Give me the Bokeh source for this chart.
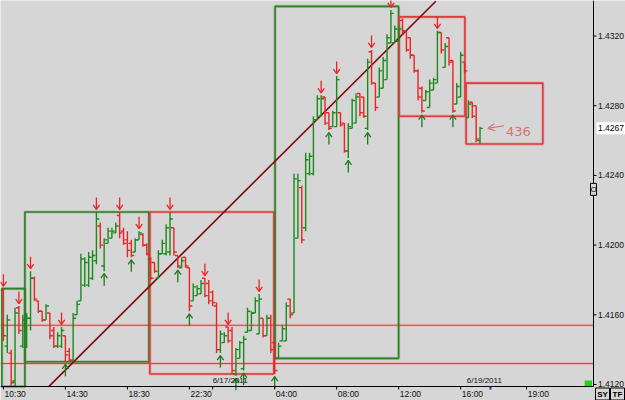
from bokeh.plotting import figure
from bokeh.models import Range1d, Arrow, OpenHead, ColumnDataSource
from bokeh.core.properties import value
from bokeh.embed import file_html
from bokeh.resources import INLINE

# ---------------- data (15-minute bars) ----------------
opens = [1.4174, 1.4142, 1.4138, 1.4122, 1.4164, 1.4142, 1.4145, 1.4158, 1.4181, 1.4168,
         1.4162, 1.4157, 1.4161, 1.4151, 1.4142, 1.4142, 1.4148, 1.4139, 1.4134, 1.4160,
         1.4168, 1.4177, 1.4177, 1.4181, 1.4191, 1.4211, 1.4188, 1.4201, 1.4204, 1.4207,
         1.4217, 1.4208, 1.4203, 1.4201, 1.4196, 1.4203, 1.4206, 1.4200, 1.4192, 1.4190,
         1.4181, 1.4195, 1.4195, 1.4196, 1.4210, 1.4194, 1.4187, 1.4193, 1.4187, 1.4168,
         1.4171, 1.4172, 1.4181, 1.4178, 1.4173, 1.4165, 1.4140, 1.4144, 1.4153, 1.4151,
         1.4126, 1.4135, 1.4129, 1.4150, 1.4151, 1.4161, 1.4149, 1.4158, 1.4148, 1.4158,
         1.4144, 1.4135, 1.4145, 1.4145, 1.4169, 1.4161, 1.4204, 1.4233, 1.4210, 1.4241,
         1.4241, 1.4272, 1.4274, 1.4285, 1.4276, 1.4268, 1.4268, 1.4276, 1.4270, 1.4254,
         1.4267, 1.4270, 1.4287, 1.4285, 1.4267, 1.4311, 1.4293, 1.4285, 1.4290, 1.4295,
         1.4316, 1.4316, 1.4317, 1.4329, 1.4323, 1.4319, 1.4309, 1.4300, 1.4290, 1.4283,
         1.4279, 1.4289, 1.4293, 1.4322, 1.4302, 1.4319, 1.4306, 1.4281, 1.4285, 1.4305,
         1.4273, 1.4282, 1.4280, 1.4260]

highs = [1.4175, 1.4160, 1.4140, 1.4164, 1.4165, 1.4160, 1.4161, 1.4185, 1.4182, 1.4168,
         1.4162, 1.4166, 1.4161, 1.4153, 1.4150, 1.4153, 1.4148, 1.4141, 1.4161, 1.4168,
         1.4195, 1.4193, 1.4196, 1.4197, 1.4219, 1.4213, 1.4204, 1.4210, 1.4210, 1.4213,
         1.4219, 1.4210, 1.4208, 1.4203, 1.4204, 1.4208, 1.4207, 1.4201, 1.4193, 1.4190,
         1.4197, 1.4203, 1.4212, 1.4219, 1.4210, 1.4194, 1.4193, 1.4193, 1.4187, 1.4178,
         1.4177, 1.4180, 1.4181, 1.4180, 1.4174, 1.4167, 1.4151, 1.4150, 1.4153, 1.4153,
         1.4141, 1.4145, 1.4148, 1.4164, 1.4162, 1.4170, 1.4172, 1.4158, 1.4160, 1.4160,
         1.4145, 1.4144, 1.4154, 1.4167, 1.4169, 1.4241, 1.4241, 1.4234, 1.4253, 1.4253,
         1.4274, 1.4286, 1.4286, 1.4285, 1.4276, 1.4277, 1.4297, 1.4276, 1.4270, 1.4270,
         1.4284, 1.4287, 1.4287, 1.4285, 1.4307, 1.4312, 1.4293, 1.4302, 1.4308, 1.4321,
         1.4335, 1.4326, 1.4326, 1.4330, 1.4323, 1.4319, 1.4309, 1.4301, 1.4291, 1.4289,
         1.4295, 1.4296, 1.4323, 1.4322, 1.4316, 1.4319, 1.4306, 1.4293, 1.4311, 1.4305,
         1.4283, 1.4282, 1.4280, 1.4268]

lows = [1.4145, 1.4138, 1.4119, 1.4119, 1.4149, 1.4141, 1.4141, 1.4151, 1.4168, 1.4161,
        1.4156, 1.4157, 1.4146, 1.4141, 1.4141, 1.4141, 1.4133, 1.4133, 1.4133, 1.4160,
        1.4168, 1.4176, 1.4176, 1.4180, 1.4189, 1.4198, 1.4185, 1.4201, 1.4204, 1.4207,
        1.4204, 1.4200, 1.4193, 1.4193, 1.4196, 1.4203, 1.4199, 1.4194, 1.4180, 1.4184,
        1.4181, 1.4195, 1.4194, 1.4194, 1.4194, 1.4187, 1.4187, 1.4187, 1.4162, 1.4168,
        1.4171, 1.4172, 1.4170, 1.4166, 1.4165, 1.4138, 1.4138, 1.4144, 1.4144, 1.4126,
        1.4125, 1.4135, 1.4128, 1.4150, 1.4151, 1.4161, 1.4149, 1.4147, 1.4148, 1.4138,
        1.4126, 1.4135, 1.4145, 1.4145, 1.4158, 1.4161, 1.4204, 1.4201, 1.4208, 1.4240,
        1.4240, 1.4272, 1.4274, 1.4269, 1.4266, 1.4268, 1.4268, 1.4268, 1.4253, 1.4250,
        1.4267, 1.4270, 1.4274, 1.4273, 1.4266, 1.4292, 1.4277, 1.4285, 1.4290, 1.4295,
        1.4316, 1.4316, 1.4317, 1.4321, 1.4311, 1.4307, 1.4299, 1.4283, 1.4276, 1.4283,
        1.4279, 1.4289, 1.4293, 1.4310, 1.4302, 1.4303, 1.4276, 1.4281, 1.4285, 1.4299,
        1.4273, 1.4273, 1.4259, 1.4258]

closes = [1.4148, 1.4157, 1.4121, 1.4161, 1.4151, 1.4157, 1.4158, 1.4181, 1.4169, 1.4162,
          1.4157, 1.4165, 1.4148, 1.4142, 1.4148, 1.4151, 1.4137, 1.4134, 1.4158, 1.4166,
          1.4192, 1.4190, 1.4193, 1.4194, 1.4215, 1.4200, 1.4203, 1.4208, 1.4208, 1.4211,
          1.4207, 1.4201, 1.4197, 1.4194, 1.4203, 1.4207, 1.4200, 1.4195, 1.4181, 1.4185,
          1.4195, 1.4201, 1.4210, 1.4215, 1.4196, 1.4188, 1.4191, 1.4188, 1.4165, 1.4176,
          1.4175, 1.4178, 1.4171, 1.4168, 1.4167, 1.4140, 1.4149, 1.4148, 1.4145, 1.4128,
          1.4140, 1.4144, 1.4146, 1.4162, 1.4161, 1.4168, 1.4169, 1.4148, 1.4158, 1.4140,
          1.4128, 1.4142, 1.4152, 1.4165, 1.4160, 1.4238, 1.4237, 1.4203, 1.4249, 1.4251,
          1.4272, 1.4284, 1.4284, 1.4270, 1.4267, 1.4276, 1.4295, 1.4269, 1.4254, 1.4268,
          1.4283, 1.4285, 1.4276, 1.4274, 1.4305, 1.4293, 1.4279, 1.4300, 1.4306, 1.4319,
          1.4333, 1.4324, 1.4324, 1.4323, 1.4312, 1.4309, 1.4300, 1.4285, 1.4277, 1.4288,
          1.4293, 1.4295, 1.4322, 1.4312, 1.4314, 1.4305, 1.4277, 1.4291, 1.4309, 1.4300,
          1.4281, 1.4274, 1.4261, 1.4267]

# swing markers (bar numbers)
swing_high_bars = [0, 4, 7, 15, 24, 30, 35, 43, 52, 58, 66, 82, 86, 95, 100, 112]
swing_low_bars = [16, 26, 33, 45, 48, 56, 60, 62, 70, 84, 89, 94, 108, 116]

# range boxes (bar units / price)
box_left = [-0.4, 5.55, 37.8, 70.1, 102.1, 119.4]
box_right = [5.55, 37.55, 69.8, 102.0, 119.1, 139.2]
box_top = [1.4175, 1.4219, 1.4219, 1.4337, 1.4331, 1.4293]
box_bottom = [1.41188, 1.4133, 1.4126, 1.4135, 1.4274, 1.4258]
box_kind = ["up", "up", "down", "up", "down", "down"]

# trend line
trend_x = [11.7, 111.6]
trend_y = [1.41188, 1.4340]

# horizontal levels
level_prices = [1.4154, 1.4132]

# axis ticks and labels
time_tick_bars = [0, 16, 32, 48, 54, 70, 86, 102, 118, 135]
time_tick_labels = ["10:30", "14:30", "18:30", "22:30", "", "04:00", "08:00", "12:00", "16:00", "19:00"]
date_label_bars = [54, 119.6]
date_labels = ["6/17/2011", "6/19/2011"]
week_start_bar = 125.7
price_ticks = [1.4120, 1.4160, 1.4200, 1.4240, 1.4280, 1.4320]
price_tick_labels = ["1.4120", "1.4160", "1.4200", "1.4240", "1.4280", "1.4320"]
last_price = 1.4267
last_price_label = "1.4267"
note_text = "436"
note_x = 129.7
note_y = 1.4265
note_arrow_x = [129.2, 125.0]
note_arrow_y = [1.42685, 1.4267]

# ---------------- geometry / styling ----------------
PX_X = 1 / 3.875                 # one pixel in bar units
X_START = -0.75
X_END = X_START + 625 * PX_X     # whole canvas is the frame; scales drawn inside
AXIS_X = X_START + 593 * PX_X    # price-scale line
Y_END = 1.43404
PX_Y = 0.0000574
Y_START = Y_END - 400 * PX_Y
AXIS_Y = Y_END - 386 * PX_Y      # time-scale line

BG = "#d6d6d6"
GREEN = "#1a8a1a"
RED = "#ee2222"
BOX_GREEN = "#2f7f25"
BOX_RED = "#e23a3a"
FONT = "Liberation Sans"
INK = "#111111"

p = figure(width=625, height=400, output_backend="svg", toolbar_location=None,
           x_range=Range1d(X_START, X_END), y_range=Range1d(Y_START, Y_END),
           x_axis_location=None, y_axis_location=None, min_border_left=0, min_border_top=0,
           min_border_right=0, min_border_bottom=0)
p.background_fill_color = BG
p.border_fill_color = BG
p.outline_line_color = None
p.xgrid.visible = False
p.ygrid.visible = False

# horizontal levels (stop at the price scale)
n_lv = len(level_prices)
p.segment(x0=[X_START] * n_lv, y0=level_prices, x1=[AXIS_X] * n_lv, y1=level_prices,
          line_color="#f0b4b4", line_width=3, line_alpha=0.8)
p.segment(x0=[X_START] * n_lv, y0=level_prices, x1=[AXIS_X] * n_lv, y1=level_prices,
          line_color="#b84848", line_width=1)

# boxes
bcols = [BOX_GREEN if k == "up" else BOX_RED for k in box_kind]
p.quad(left=box_left, right=box_right, top=box_top, bottom=box_bottom,
       fill_color=None, line_color=bcols, line_width=3.2, line_alpha=0.25)
p.quad(left=box_left, right=box_right, top=box_top, bottom=box_bottom,
       fill_color=None, line_color=bcols, line_width=1.6)

# trend line
p.line(trend_x, trend_y, line_color="#7a0a0a", line_width=1.6)

# OHLC bars
xs = list(range(len(opens)))
cols = [GREEN if c >= o else RED for o, c in zip(opens, closes)]
src = ColumnDataSource(dict(x=xs, xl=[x - 0.75 for x in xs], xr=[x + 0.75 for x in xs],
                            o=opens, h=highs, l=lows, c=closes, col=cols))
p.segment(x0="x", y0="l", x1="x", y1="h", line_color="col", line_width=1.4, source=src)
p.segment(x0="xl", y0="o", x1="x", y1="o", line_color="col", line_width=1.4, source=src)
p.segment(x0="x", y0="c", x1="xr", y1="c", line_color="col", line_width=1.4, source=src)

# swing arrows drawn as strokes: stem + open head
def arrow_lines(bars, anchor, sign):
    xs_, ys_ = [], []
    for b in bars:
        tip = anchor[b] + sign * 2.5 * PX_Y
        tail = tip + sign * 12 * PX_Y
        xs_.append([b, b]); ys_.append([tip, tail])
        xs_.append([b - 3.2 * PX_X, b, b + 3.2 * PX_X])
        ys_.append([tip + sign * 4.5 * PX_Y, tip, tip + sign * 4.5 * PX_Y])
    return xs_, ys_

rx, ry = arrow_lines(swing_high_bars, highs, 1)
gx, gy = arrow_lines(swing_low_bars, lows, -1)
p.multi_line(rx, ry, line_color=RED, line_width=1.3)
p.multi_line(gx, gy, line_color="#1d7a1d", line_width=1.3)

# note "436"
p.add_layout(Arrow(end=OpenHead(size=7, line_color="#d87070", line_width=1.2),
                   x_start=note_arrow_x[0], y_start=note_arrow_y[0],
                   x_end=note_arrow_x[1], y_end=note_arrow_y[1],
                   line_color="#d87070", line_width=1.2))
p.text(x=[note_x], y=[note_y], text=[note_text], text_color="#d87070",
       text_font=value("DejaVu Sans"), text_font_size="13px",
       text_align="left", text_baseline="middle")

# small green marker bottom right
p.quad(left=[150.0], right=[151.9], bottom=[AXIS_Y], top=[AXIS_Y + 6 * PX_Y],
       fill_color="#22d022", line_color=None)

# ---- time scale ----
p.segment(x0=[X_START], y0=[AXIS_Y], x1=[AXIS_X], y1=[AXIS_Y], line_color="black", line_width=1)
n_t = len(time_tick_bars)
p.segment(x0=time_tick_bars, y0=[AXIS_Y] * n_t, x1=time_tick_bars, y1=[AXIS_Y - 3 * PX_Y] * n_t,
          line_color="black", line_width=1)
p.segment(x0=[week_start_bar], y0=[AXIS_Y], x1=[week_start_bar], y1=[AXIS_Y - 3 * PX_Y],
          line_color="#2030c0", line_width=2)
p.text(x=[t + 0.3 for t in time_tick_bars], y=[AXIS_Y - 2 * PX_Y] * n_t, text=time_tick_labels,
       text_color=INK, text_font=value(FONT), text_font_size="8.5px",
       text_align="left", text_baseline="top")
p.text(x=date_label_bars, y=[AXIS_Y + 1.5 * PX_Y] * 2, text=date_labels, text_color=INK,
       text_font=value(FONT), text_font_size="8px", text_align="left", text_baseline="bottom")

# ---- price scale ----
p.segment(x0=[AXIS_X], y0=[AXIS_Y], x1=[AXIS_X], y1=[Y_END], line_color="black", line_width=1)
n_p = len(price_ticks)
p.segment(x0=[AXIS_X] * n_p, y0=price_ticks, x1=[AXIS_X + 3 * PX_X] * n_p, y1=price_ticks,
          line_color="black", line_width=1)
p.text(x=[AXIS_X + 4.5 * PX_X] * n_p, y=price_ticks, text=price_tick_labels,
       text_color=INK, text_font=value(FONT), text_font_size="8.5px",
       text_align="left", text_baseline="middle")
# last price tag
p.quad(left=[AXIS_X + 3 * PX_X], right=[X_END], bottom=[last_price - 6 * PX_Y],
       top=[last_price + 6 * PX_Y], fill_color="white", line_color=None)
p.text(x=[AXIS_X + 4.5 * PX_X], y=[last_price], text=[last_price_label], text_color="black",
       text_font=value(FONT), text_font_size="8.5px", text_align="left", text_baseline="middle")
# small "O" box on the scale
p.quad(left=[AXIS_X - 3 * PX_X], right=[AXIS_X + 3 * PX_X], bottom=[1.4232 - 6 * PX_Y],
       top=[1.4232 + 6 * PX_Y], fill_color=BG, line_color="black", line_width=1)
p.text(x=[AXIS_X], y=[1.4232], text=["O"], text_color="black", text_font=value(FONT),
       text_font_size="8px", text_align="center", text_baseline="middle")
# SY / TF buttons
btn_left = [AXIS_X + 2 * PX_X, AXIS_X + 17 * PX_X]
btn_text = ["SY", "TF"]
p.quad(left=btn_left, right=[b + 14 * PX_X for b in btn_left], bottom=[Y_START + 0.5 * PX_Y] * 2,
       top=[AXIS_Y - 1.5 * PX_Y] * 2, fill_color=BG, line_color="black", line_width=1)
p.text(x=[b + 7 * PX_X for b in btn_left], y=[AXIS_Y - 7.5 * PX_Y] * 2, text=btn_text,
       text_color="black", text_font=value(FONT), text_font_size="8px", text_font_style="bold",
       text_align="center", text_baseline="middle")

open("out.html", "w").write(file_html(p, INLINE))
